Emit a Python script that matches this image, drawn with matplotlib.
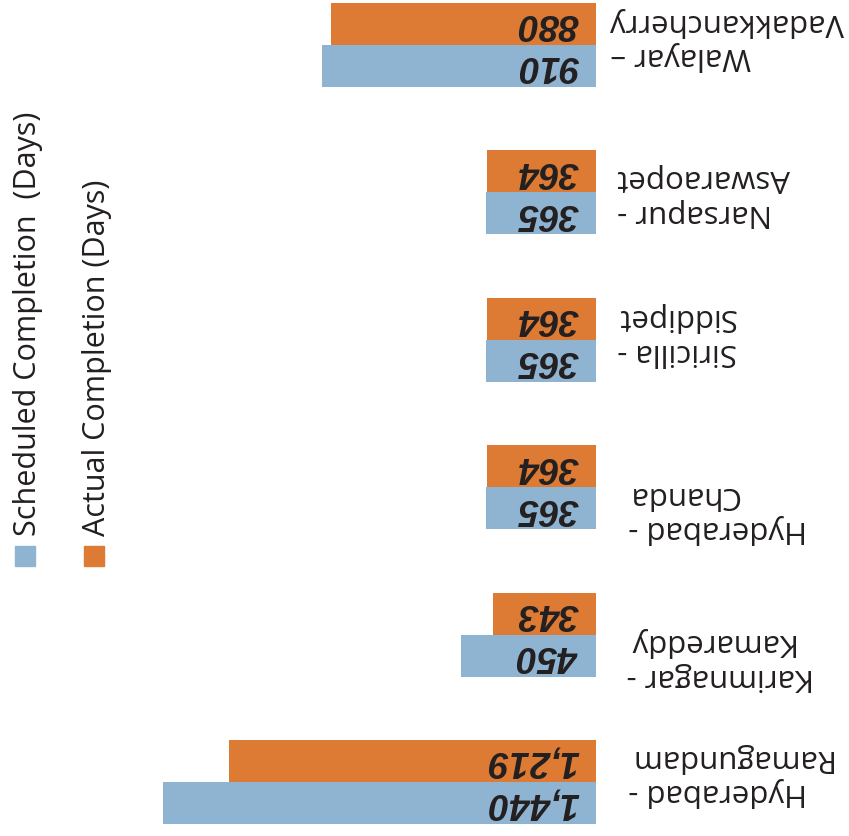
import matplotlib
matplotlib.use("Agg")
import matplotlib.pyplot as plt
from matplotlib.patches import Rectangle

# categories as they appear top to bottom in the (upside-down) picture
routes = ["Walayar –\nVadakkancherry",
          "Narsapur -\nAswaraopet",
          "Siricilla -\nSiddipet",
          "Hyderabad -\nChanda",
          "Karimnagar -\nKamareddy",
          "Hyderabad -\nRamagundam"]
scheduled_days = [910, 365, 365, 365, 450, 1440]
actual_days = [880, 364, 364, 364, 343, 1219]
series_names = ["Scheduled Completion  (Days)", "Actual Completion (Days)"]

BLUE = "#8fb4d2"
ORANGE = "#dd7b35"
TEXT = "#231f20"

W, H = 849, 836
fig = plt.figure(figsize=(W / 100, H / 100), dpi=100)

# axes spans the bar area; bars grow leftwards from the right edge
ax = fig.add_axes([0, 0, 596 / W, 1])
px_per_day = 0.3008
slot = 147.4
ax.set_xlim(596 / px_per_day, 0)
ax.set_ylim((H - 45) / slot, -45 / slot)
ax.axis("off")

h = 42 / slot
ypos = list(range(len(routes)))
ax.barh([y - h / 2 for y in ypos], actual_days, height=h, color=ORANGE)
ax.barh([y + h / 2 for y in ypos], scheduled_days, height=h, color=BLUE)

# value labels, upside down, bold italic
for y, s, a in zip(ypos, scheduled_days, actual_days):
    for v, yy in ((s, y + h / 2), (a, y - h / 2)):
        ax.annotate(f"{v:,}", xy=(0, yy), xytext=(-17, 0),
                    textcoords="offset pixels", rotation=180,
                    ha="right", va="center", fontsize=26.5,
                    fontweight="bold", fontstyle="italic",
                    family="Liberation Sans", color=TEXT)

# category labels, upside down, to the right of the bars
label_dx = [14, 21, 21, 32, 31, 32]
label_dy = [-6, 3, -5, 25, 25, -7]
for y, name, dx, dy in zip(ypos, routes, label_dx, label_dy):
    ax.annotate(name, xy=(1, y), xycoords=("axes fraction", "data"),
                xytext=(dx, -dy), textcoords="offset pixels",
                rotation=180, ha="left", va="center",
                multialignment="right", fontsize=22.5,
                family="Open Sans", color=TEXT, linespacing=1.2,
                annotation_clip=False)

# legend: squares with vertical text
for x0, col, name in ((15, BLUE, series_names[0]), (84, ORANGE, series_names[1])):
    fig.add_artist(Rectangle((x0 / W, (H - 566) / H), 20 / W, 20 / H,
                             transform=fig.transFigure, color=col))
    fig.text((x0 + 13) / W, (H - 536) / H, name, rotation=90,
             ha="center", va="bottom", fontsize=22,
             family="Open Sans", color=TEXT)

fig.savefig("out.png", dpi=100)
